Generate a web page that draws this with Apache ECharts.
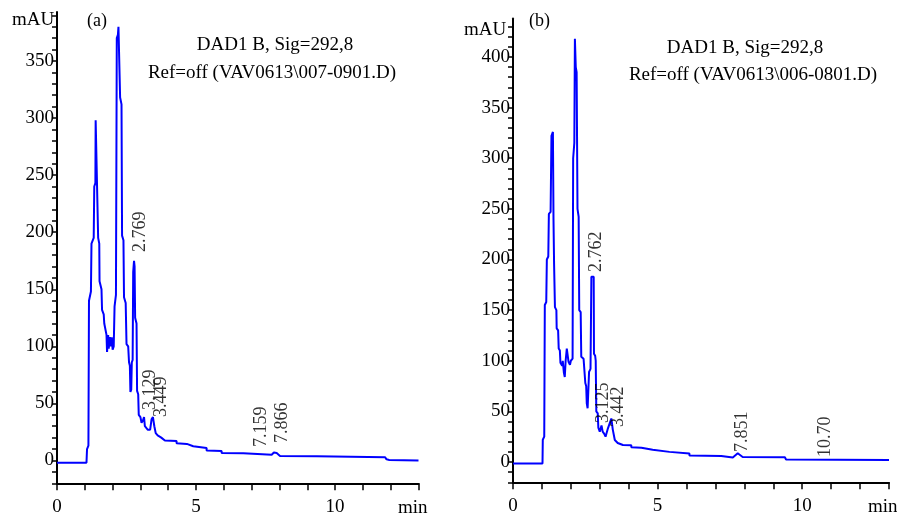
<!DOCTYPE html>
<html><head><meta charset="utf-8">
<script src="https://cdn.jsdelivr.net/npm/echarts@6/dist/echarts.min.js"></script>
<style>html,body{margin:0;padding:0;background:#fff}#c{width:897px;height:521px}</style>
</head><body><div id="c"></div>
<script>
// ---- Chromatogram (a) ----
const timesA = [0,1.06,1.08,1.13,1.15,1.22,1.24,1.32,1.34,1.38,1.39,1.46,1.48,1.52,1.53,1.60,1.62,1.68,1.70,1.78,1.80,1.84,1.86,1.90,1.93,1.97,2.00,2.04,2.07,2.12,2.15,2.19,2.21,2.25,2.27,2.32,2.34,2.39,2.41,2.47,2.50,2.56,2.59,2.62,2.64,2.67,2.69,2.72,2.74,2.77,2.79,2.81,2.86,2.88,2.92,2.94,3.00,3.04,3.09,3.13,3.16,3.22,3.26,3.35,3.40,3.45,3.50,3.55,3.62,3.75,3.88,4.30,4.30,4.67,4.67,4.90,4.90,5.38,5.38,5.92,5.92,6.70,6.70,7.72,7.80,7.90,8.02,9.34,9.34,11.80,11.85,11.90,11.95,13.00];
const valuesA = [-2,-2,10,13,140,148,190,195,240,243,298,298,195,190,157,150,132,128,120,110,95,110,98,108,100,108,97,100,135,145,370,373,380,380,318,312,197,193,143,138,102,100,86,83,60,62,86,88,165,175,170,125,120,61,58,40,38,33,35,38,30,31,27,27,36,38,30,24,22,20,17.5,17,15,14.5,13,12.5,11.6,11,8.8,8.4,6.5,6.3,5,5,7,6.5,4,3.8,2.8,2.8,1,2,0.5,0];
const peakLabelsA = ['2.769','3.129','3.449','7.159','7.866'];
const peakLabelTimesA = [2.986,3.345,3.759,7.338,8.112];
const peakLabelValuesA = [182.7,44.2,38.1,11.8,15.3];

// ---- Chromatogram (b) ----
const timesB = [0,1.02,1.03,1.08,1.10,1.15,1.17,1.22,1.24,1.30,1.33,1.38,1.40,1.42,1.45,1.50,1.51,1.56,1.58,1.62,1.64,1.70,1.72,1.76,1.79,1.82,1.86,1.90,1.92,1.97,2.00,2.06,2.08,2.12,2.14,2.16,2.17,2.20,2.23,2.27,2.29,2.34,2.36,2.44,2.50,2.53,2.55,2.58,2.61,2.63,2.68,2.71,2.79,2.80,2.84,2.86,2.88,2.93,2.95,3.00,3.06,3.10,3.15,3.20,3.28,3.40,3.45,3.52,3.62,3.80,4.09,4.09,4.44,4.44,4.83,4.83,5.41,5.41,6.10,6.10,7.20,7.25,7.60,7.77,7.94,9.40,9.44,13.00];
const valuesB = [-1.5,-1.5,22,25,155,158,200,203,245,247,322,326,240,196,153,150,132,130,112,110,98,95,100,88,84,100,112,112,99,96,100,102,300,315,418,418,390,385,250,242,150,148,104,102,78,75,58,53,52,89,92,183,183,107,105,100,50,48,34,30,36,30,28,25,33,43,32,21.7,18.8,16.8,16.5,14.5,14,12.5,12,10.2,10,8.6,8.3,6.3,6,4.5,4.5,8.6,5,4.6,2.5,2];
const peakLabelsB = ['2.762','3.125','3.442','7.851','10.70'];
const peakLabelTimesB = [2.887,3.112,3.631,7.936,10.79];
const peakLabelValuesB = [187.7,38.5,34.6,9.9,4.9];

// ---- Axis ticks ----
const xTickValues = [0,1,2,3,4,5,6,7,8,9,10,11,12,13];
const xLabelValues = [0,5,10];
const yTicksA = []; for (let v = -20; v <= 390; v += 10) yTicksA.push(v);
const yLabelsA = [0,50,100,150,200,250,300,350];
const yTicksB = []; for (let v = -20; v <= 430; v += 10) yTicksB.push(v);
const yLabelsB = [0,50,100,150,200,250,300,350,400];

const F = '"Liberation Serif","DejaVu Serif",serif';
const BLUE = '#0000ff';

function xAxisCfg(gi) {
  return {
    type: 'value', gridIndex: gi, min: 0, max: 13, interval: 1,
    axisLine: { show: true, onZero: false, lineStyle: { color: '#000', width: 2 } },
    axisTick: { show: true, length: 7, customValues: xTickValues, lineStyle: { color: '#000', width: 1.5 } },
    axisLabel: { margin: 14, fontFamily: F, fontSize: 19, color: '#000', customValues: xLabelValues,
      formatter: v => (v % 5 === 0 ? String(v) : '') },
    splitLine: { show: false }
  };
}
function yAxisCfg(gi, max, ticks, labels) {
  return {
    type: 'value', gridIndex: gi, min: -20, max: max, interval: 10,
    axisLine: { show: true, onZero: false, lineStyle: { color: '#000', width: 2 } },
    axisTick: { show: true, length: 5, customValues: ticks, lineStyle: { color: '#000', width: 1.5 } },
    axisLabel: { margin: 3, fontFamily: F, fontSize: 19, color: '#000', customValues: labels,
      formatter: v => (v >= 0 && v % 50 === 0 ? String(v) : '') },
    splitLine: { show: false }
  };
}
function pairs(t, v) { return t.map((x, i) => [x, v[i]]); }
function peakSeries(gi, times, values, labels) {
  return {
    type: 'scatter', xAxisIndex: gi, yAxisIndex: gi, symbolSize: 0, silent: true,
    data: pairs(times, values),
    label: { show: true, position: 'inside', align: 'left', verticalAlign: 'middle', rotate: 90,
      fontFamily: F, fontSize: 18, color: '#000', formatter: p => labels[p.dataIndex] },
    z: 5
  };
}

const chart = echarts.init(document.getElementById('c'), null, { renderer: 'canvas' });
chart.setOption({
  animation: false,
  backgroundColor: '#fff',
  grid: [
    { left: 57, top: 11.9, width: 361.5, height: 471.4 },
    { left: 513, top: 18.5, width: 376, height: 463.75 }
  ],
  xAxis: [xAxisCfg(0), xAxisCfg(1)],
  yAxis: [yAxisCfg(0, 393, yTicksA, yLabelsA), yAxisCfg(1, 438, yTicksB, yLabelsB)],
  series: [
    { type: 'line', xAxisIndex: 0, yAxisIndex: 0, data: pairs(timesA, valuesA), showSymbol: false,
      lineStyle: { color: BLUE, width: 2 }, itemStyle: { color: BLUE }, silent: true },
    { type: 'line', xAxisIndex: 1, yAxisIndex: 1, data: pairs(timesB, valuesB), showSymbol: false,
      lineStyle: { color: BLUE, width: 2 }, itemStyle: { color: BLUE }, silent: true },
    peakSeries(0, peakLabelTimesA, peakLabelValuesA, peakLabelsA),
    peakSeries(1, peakLabelTimesB, peakLabelValuesB, peakLabelsB)
  ],
  graphic: [
    { type: 'text', left: 12, top: 11, style: { text: 'mAU', font: '19px ' + F, fill: '#000' } },
    { type: 'text', left: 464, top: 21, style: { text: 'mAU', font: '19px ' + F, fill: '#000' } },
    { type: 'text', left: 398, top: 499, style: { text: 'min', font: '19px ' + F, fill: '#000' } },
    { type: 'text', left: 868, top: 498, style: { text: 'min', font: '19px ' + F, fill: '#000' } },
    { type: 'text', left: 87, top: 12, style: { text: '(a)', font: '18px ' + F, fill: '#000' } },
    { type: 'text', left: 529, top: 12, style: { text: '(b)', font: '18px ' + F, fill: '#000' } },
    { type: 'text', x: 275, y: 45, style: { text: 'DAD1 B, Sig=292,8', font: '19px ' + F, fill: '#000', align: 'center', verticalAlign: 'middle' } },
    { type: 'text', x: 272, y: 73, style: { text: 'Ref=off (VAV0613\\007-0901.D)', font: '19px ' + F, fill: '#000', align: 'center', verticalAlign: 'middle' } },
    { type: 'text', x: 745, y: 48, style: { text: 'DAD1 B, Sig=292,8', font: '19px ' + F, fill: '#000', align: 'center', verticalAlign: 'middle' } },
    { type: 'text', x: 753, y: 75, style: { text: 'Ref=off (VAV0613\\006-0801.D)', font: '19px ' + F, fill: '#000', align: 'center', verticalAlign: 'middle' } }
  ]
});
</script>
</body></html>
